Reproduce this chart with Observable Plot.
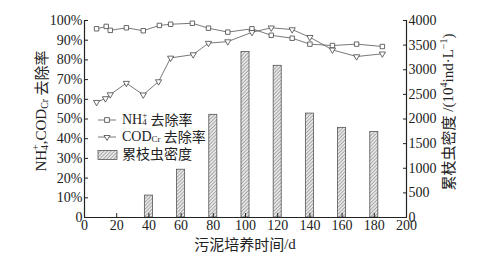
<!DOCTYPE html>
<html><head><meta charset="utf-8">
<script src="https://cdn.jsdelivr.net/npm/d3@7"></script>
<script src="https://cdn.jsdelivr.net/npm/@observablehq/plot@0.6"></script>
<style>
body{margin:0;background:#fff;}
svg{font-family:"Liberation Serif","Noto Sans CJK SC",serif;}
</style></head>
<body><div id="chart"></div>
<script>
const nhDays = [7.5, 13.5, 16, 26, 36.5, 46.5, 53.5, 67, 77, 89, 104, 116, 129, 140, 154, 169, 185];
const nhRemoval = [95.8, 97, 95, 96.3, 94.8, 97.5, 98.1, 98.6, 96.1, 94.1, 95.8, 92.5, 91, 88, 87.3, 88, 86.8];
const codDays = [7.5, 13, 16, 26, 36.5, 46, 53.5, 67.5, 77, 89, 104, 116, 129, 140, 154, 169, 185];
const codRemoval = [58.5, 60.4, 62.4, 68.2, 62.3, 69, 81, 82.7, 88.5, 89.3, 94, 96.3, 95.4, 91.5, 85.1, 81.7, 83.1];
const barDays = [40, 60, 80, 100, 120, 140, 160, 180];
const density = [445, 970, 2085, 3360, 3080, 2110, 1820, 1735];
const xTicks = [0, 20, 40, 60, 80, 100, 120, 140, 160, 180, 200];
const yTicks = [0, 10, 20, 30, 40, 50, 60, 70, 80, 90, 100];
const rightTicks = [0, 500, 1000, 1500, 2000, 2500, 3000, 3500, 4000];
const densityMax = 4000;

const nh = nhDays.map((d, i) => ({day: d, v: nhRemoval[i]}));
const cod = codDays.map((d, i) => ({day: d, v: codRemoval[i]}));
const bars = barDays.map((d, i) => ({day: d, v: density[i] / densityMax * 100}));
const lineColor = "#555";

const plot = Plot.plot({
  width: 492, height: 262,
  marginLeft: 84, marginRight: 86, marginTop: 20, marginBottom: 45,
  style: {fontSize: "14px", fontFamily: "'Liberation Serif','Noto Sans CJK SC',serif", color: "#222"},
  x: {domain: [0, 200]},
  y: {domain: [0, 100]},
  marks: [
    Plot.rectY(bars, {x1: d => d.day - 2.5, x2: d => d.day + 2.5, y: "v", fill: "url(#hatch)", stroke: "#555", strokeWidth: 0.8}),
    Plot.line(nh, {x: "day", y: "v", stroke: lineColor, strokeWidth: 0.8}),
    Plot.line(cod, {x: "day", y: "v", stroke: lineColor, strokeWidth: 0.8}),
    Plot.dot(nh, {x: "day", y: "v", symbol: "square", r: 2.5, fill: "white", stroke: "#444", strokeWidth: 0.8}),
    Plot.dot(cod, {x: "day", y: "v", symbol: "triangle", rotate: 180, r: 2.3, fill: "white", stroke: "#444", strokeWidth: 0.8}),
    Plot.axisX({ticks: xTicks, tickSize: -4, tickPadding: 7, label: null, fontSize: 14}),
    Plot.axisY({ticks: yTicks, tickSize: -4, tickPadding: 6, tickFormat: d => d === 0 ? "0" : d + "%", label: null, fontSize: 14}),
    Plot.axisY({anchor: "right", ticks: rightTicks.map(t => t / densityMax * 100), tickSize: -4, tickPadding: 6, tickFormat: d => String(Math.round(d * densityMax / 100)), label: null, fontSize: 14}),
    Plot.ruleX([0, 200], {stroke: "#222", strokeWidth: 1.2}),
    Plot.ruleY([0], {stroke: "#222", strokeWidth: 1.2})
  ]
});
document.getElementById("chart").append(plot);

const svg = d3.select(plot);
const defs = svg.insert("defs", ":first-child");
const pat = defs.append("pattern").attr("id", "hatch").attr("patternUnits", "userSpaceOnUse")
  .attr("width", 2.5).attr("height", 2.5).attr("patternTransform", "rotate(45)");
pat.append("rect").attr("width", 2.5).attr("height", 2.5).attr("fill", "#e6e6e6");
pat.append("line").attr("x1", 0).attr("y1", 0).attr("x2", 0).attr("y2", 2.5).attr("stroke", "#666").attr("stroke-width", 0.9);

const cjk = "'Noto Sans CJK SC',sans-serif";
const serif = "'Liberation Serif',serif";
const g = svg.append("g").attr("fill", "#222");

// Legend
function chemText(t, x, y, parts) {
  const tx = t.append("text").attr("x", x).attr("y", y).attr("text-anchor", "start").attr("dominant-baseline", "middle").attr("font-size", 14);
  parts.forEach(p => {
    const s = tx.append("tspan").text(p.t);
    if (p.sub) s.attr("font-size", 9).attr("baseline-shift", "-25%");
    if (p.sup) s.attr("font-size", 9).attr("baseline-shift", "55%").attr("dx", -4.5);
    if (p.cjk) s.attr("font-family", cjk).attr("font-size", 14);
    else s.attr("font-family", serif);
  });
  return tx;
}
const lg = g.append("g");
// row 1
lg.append("line").attr("x1", 98).attr("x2", 116).attr("y1", 120).attr("y2", 120).attr("stroke", lineColor).attr("stroke-width", 0.8);
lg.append("rect").attr("x", 104.7).attr("y", 117.7).attr("width", 4.6).attr("height", 4.6).attr("fill", "white").attr("stroke", "#444").attr("stroke-width", 0.8);
chemText(lg, 122, 121, [{t: "NH"}, {t: "4", sub: true}, {t: "+", sup: true}, {t: " 去除率", cjk: true}]);
// row 2
lg.append("line").attr("x1", 98).attr("x2", 116).attr("y1", 137).attr("y2", 137).attr("stroke", lineColor).attr("stroke-width", 0.8);
lg.append("path").attr("d", "M104,135.5 L110,135.5 L107,140.5 Z").attr("fill", "white").attr("stroke", "#444").attr("stroke-width", 0.8);
chemText(lg, 122, 138, [{t: "COD"}, {t: "Cr", sub: true}, {t: " 去除率", cjk: true}]);
// row 3
lg.append("rect").attr("x", 98).attr("y", 150.5).attr("width", 19).attr("height", 9).attr("fill", "url(#hatch)").attr("stroke", "#555").attr("stroke-width", 0.8);
chemText(lg, 122, 155, [{t: "累枝虫密度", cjk: true}]);

// X title
g.append("text").attr("x", 245).attr("y", 246).attr("text-anchor", "middle").attr("dominant-baseline", "middle")
  .attr("font-size", 15).attr("font-family", cjk).text("污泥培养时间")
  .append("tspan").attr("font-family", serif).text("/d");

// Left title
const lt = g.append("text").attr("transform", "translate(43,111) rotate(-90)").attr("text-anchor", "middle").attr("dominant-baseline", "middle").attr("font-size", 15).attr("font-family", serif);
lt.append("tspan").text("NH");
lt.append("tspan").text("4").attr("font-size", 10).attr("baseline-shift", "-25%");
lt.append("tspan").text("+").attr("font-size", 10).attr("baseline-shift", "60%").attr("dx", -5);
lt.append("tspan").text(",COD");
lt.append("tspan").text("Cr").attr("font-size", 10).attr("baseline-shift", "-25%");
lt.append("tspan").text(" 去除率").attr("font-family", cjk);

// Right title
const rt = g.append("text").attr("transform", "translate(450,112) rotate(-90)").attr("text-anchor", "middle").attr("dominant-baseline", "middle").attr("font-size", 15).attr("font-family", serif);
rt.append("tspan").text("累枝虫密度").attr("font-family", cjk);
rt.append("tspan").text(" /(10");
rt.append("tspan").text("4").attr("font-size", 10).attr("baseline-shift", "55%");
rt.append("tspan").text("ind·L");
rt.append("tspan").text("−1").attr("font-size", 10).attr("baseline-shift", "55%");
rt.append("tspan").text(")");
</script></body></html>
